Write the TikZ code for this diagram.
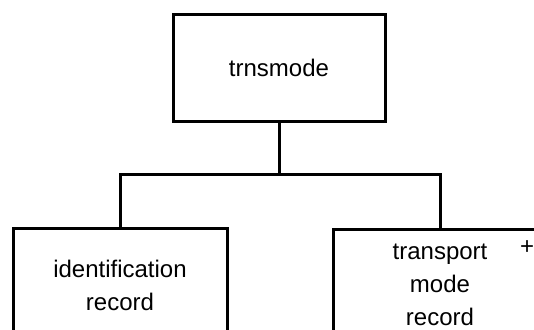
\documentclass[tikz,border=0pt]{standalone}
\usepackage{fontspec}
\setmainfont{Liberation Sans}

\begin{document}
\begin{tikzpicture}[x=0.5pt, y=-0.5pt,
recbox/.style={rectangle, draw=black, line width=1.5pt, minimum width=107pt, minimum height=53.5pt, align=center, font=\fontsize{12}{16.5}\selectfont, inner sep=0pt},
link/.style={draw=black, line width=1.5pt},
]
        \useasboundingbox (0, 0) rectangle (534, 329);
        \clip (0, 0) rectangle (534, 329);

        \node [recbox, minimum width=106pt] (trnsmode) at (279, 68) {trnsmode};

        % lower boxes run off the page, so only their tops show
        \node [recbox, minimum height=57pt] (ident) at (120, 285) {identification\\record};
        \node [recbox, minimum height=56pt] (transp) at (440, 285) {transport\\mode\\record};
        \node [font=\fontsize{12}{14}\selectfont, inner sep=0pt] (plus) at (527, 248) {+};

        \coordinate (bar) at (279, 174);

        \draw [link] (trnsmode.south) -- (bar);
        \draw [link] (ident.north) |- (bar) -| (transp.north);

 \end{tikzpicture}
\end{document}
